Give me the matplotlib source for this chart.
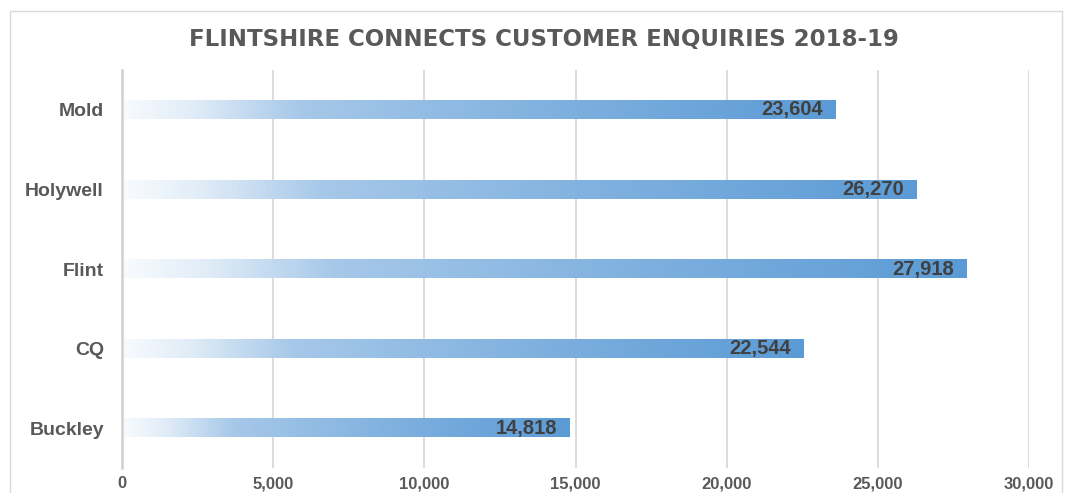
import matplotlib.pyplot as plt
import numpy as np
from matplotlib.colors import LinearSegmentedColormap
from matplotlib.patches import Rectangle

# Data
sites = ["Buckley", "CQ", "Flint", "Holywell", "Mold"]
enquiries = [14818, 22544, 27918, 26270, 23604]
ticks = [0, 5000, 10000, 15000, 20000, 25000, 30000]

plt.rcParams['font.family'] = ['Liberation Sans', 'DejaVu Sans']

fig = plt.figure(figsize=(10.65, 4.93), dpi=100)
ax = fig.add_axes([0.1146, 0.0507, 0.8516, 0.8073])

# gradient fill, white on the left to blue at the bar end
cmap = LinearSegmentedColormap.from_list(
    "bar_grad",
    [(0.0, "#F8FBFE"), (0.1, "#E0ECF7"), (0.25, "#A6C8E9"), (0.6, "#80B1DF"), (1.0, "#5B9BD5")])
grad = np.linspace(0, 1, 256).reshape(1, -1)
bar_h = 0.23

for i, v in enumerate(enquiries):
    ax.imshow(grad, cmap=cmap, aspect="auto", zorder=2,
              extent=(0, v, i - bar_h / 2, i + bar_h / 2), interpolation="bilinear")
    ax.annotate(f"{v:,}", xy=(v, i), xytext=(-9, 0), textcoords="offset points",
                ha="right", va="center", fontsize=14.5, fontweight="bold",
                color="#404040", zorder=4)

ax.set_xlim(0, 30000)
ax.set_ylim(-0.5, len(sites) - 0.5)
ax.set_xticks(ticks)
ax.set_xticklabels([f"{t:,}" for t in ticks], fontsize=12, fontweight="bold", color="#595959")
ax.set_yticks(range(len(sites)))
ax.set_yticklabels(sites, fontsize=14, fontweight="bold", color="#595959")
ax.tick_params(axis="both", length=0)
ax.tick_params(axis="x", pad=6)
ax.tick_params(axis="y", pad=13)

ax.set_axisbelow(True)
ax.grid(axis="x", color="#D9D9D9", linewidth=1.3)
ax.grid(axis="y", visible=False)
for s in ["top", "right", "bottom"]:
    ax.spines[s].set_visible(False)
ax.spines["left"].set_color("#D0D0D0")
ax.spines["left"].set_linewidth(1.8)

fig.text(0.511, 0.919, "FLINTSHIRE CONNECTS CUSTOMER ENQUIRIES 2018-19",
         ha="center", va="center", fontsize=16.5, fontweight="bold",
         color="#595959", family="DejaVu Sans")

# chart border
fig.patches.append(Rectangle((10 / 1065, -0.1), 1052 / 1065, 1.1 - 11 / 493,
                             transform=fig.transFigure, fill=False,
                             edgecolor="#D9D9D9", linewidth=1.0))

plt.savefig("out.png", dpi=100)
